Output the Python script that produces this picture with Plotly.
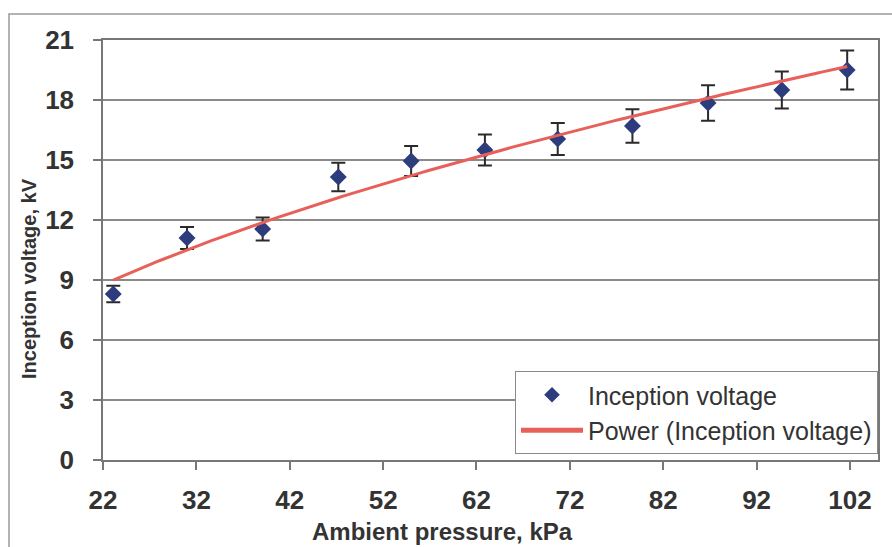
import numpy as np
import plotly.graph_objects as go

# Measured inception voltage vs ambient pressure
pressure_kpa = [23.1, 31.0, 39.1, 47.2, 55.0, 62.9, 70.7, 78.7, 86.8, 94.7, 101.7]
inception_kv = [8.3, 11.1, 11.55, 14.15, 14.95, 15.5, 16.05, 16.7, 17.85, 18.5, 19.5]
error_percent = 5

x_ticks = [22, 32, 42, 52, 62, 72, 82, 92, 102]
y_ticks = [0, 3, 6, 9, 12, 15, 18, 21]

x_title = "Ambient pressure, kPa"
y_title = "Inception voltage, kV"

# Power-law trendline V = a * P^b fitted in log-log space
b, ln_a = np.polyfit(np.log(pressure_kpa), np.log(inception_kv), 1)
p_fit = np.linspace(min(pressure_kpa), max(pressure_kpa), 200)
v_fit = np.exp(ln_a) * p_fit ** b

W, H = 892, 547
ML, MR, MT, MB = 103, 14, 40, 87
PW, PH = W - ML - MR, H - MT - MB

FONT = "Liberation Sans, Arial, sans-serif"
TXT = "#333333"
GRID = "#8a8a8a"


def px_to_paper_x(px):
    return (px - ML) / PW


def px_to_paper_y(py):
    return (H - MB - py) / PH


fig = go.Figure()
fig.add_trace(go.Scatter(
    x=pressure_kpa, y=inception_kv, mode="markers",
    name="Inception voltage",
    marker=dict(symbol="diamond", size=13, color="#2c3c7c"),
    error_y=dict(type="percent", value=error_percent, color="#2a2a2a",
                 thickness=2, width=7),
))
fig.add_trace(go.Scatter(
    x=p_fit, y=v_fit, mode="lines",
    name="Power (Inception voltage)",
    line=dict(color="#e8605a", width=3),
))

# outer chart frame (only its left and top edges fall inside the page)
fig.add_shape(type="rect", xref="paper", yref="paper",
              x0=px_to_paper_x(9), x1=px_to_paper_x(W + 20),
              y0=px_to_paper_y(H + 20), y1=px_to_paper_y(14),
              line=dict(color="#9a9a9a", width=1.5), layer="below")

# axis titles
fig.add_annotation(text=f"<b>{x_title}</b>", xref="paper", yref="paper",
                   x=px_to_paper_x(442), y=px_to_paper_y(531),
                   xanchor="center", yanchor="middle", showarrow=False,
                   font=dict(size=24, family=FONT, color=TXT))
fig.add_annotation(text=f"<b>{y_title}</b>", xref="paper", yref="paper",
                   x=px_to_paper_x(29), y=px_to_paper_y(279),
                   xanchor="center", yanchor="middle", showarrow=False,
                   textangle=-90,
                   font=dict(size=20, family=FONT, color=TXT))

fig.update_layout(
    width=W, height=H,
    margin=dict(l=ML, r=MR, t=MT, b=MB),
    paper_bgcolor="white", plot_bgcolor="white",
    font=dict(family=FONT, color=TXT),
    showlegend=True,
    legend=dict(
        x=1, xanchor="right", y=px_to_paper_y(454), yanchor="bottom",
        bgcolor="white", bordercolor="#8a8a8a", borderwidth=1,
        font=dict(size=25, family=FONT, color=TXT),
        itemwidth=62, itemsizing="constant", tracegroupgap=0,
    ),
)

fig.update_xaxes(
    range=[22, 105], tickmode="array", tickvals=x_ticks,
    ticks="outside", ticklen=8, tickcolor="#777777", tickwidth=1.5,
    showgrid=False, zeroline=False,
    showline=True, linecolor="#777777", linewidth=1.5, mirror=True,
    tickfont=dict(size=26, family=FONT, color=TXT, weight="bold"),
    ticklabelstandoff=8,
)
fig.update_yaxes(
    range=[0, 21], tickmode="array", tickvals=y_ticks,
    ticks="outside", ticklen=8, tickcolor="#777777", tickwidth=1.5,
    showgrid=True, gridcolor=GRID, gridwidth=1.5, zeroline=False,
    showline=True, linecolor="#777777", linewidth=1.5, mirror=True,
    tickfont=dict(size=26, family=FONT, color=TXT, weight="bold"),
    ticklabelstandoff=14,
)

fig.write_html("out.html")
